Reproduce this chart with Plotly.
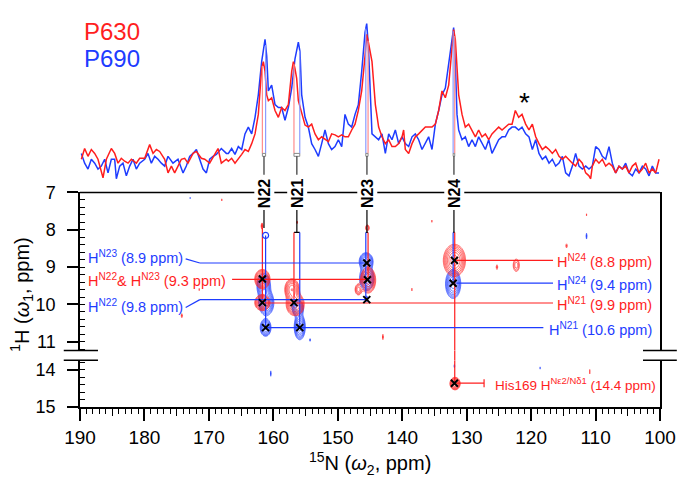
import numpy as np
import plotly.graph_objects as go

# ---------------- 1D spectra (projections), arbitrary intensity units ----------------
p630_ppm = [189.79, 189.28, 188.76, 188.24, 187.72, 187.21, 186.43, 185.91, 185.14, 184.62, 184.10, 183.59,
            183.07, 182.55, 182.03, 181.26, 180.74, 179.96, 179.19, 178.67, 178.15, 177.64, 176.86, 176.34,
            175.82, 175.31, 174.79, 174.27, 173.76, 173.24, 172.46, 171.94, 171.17, 170.65, 169.88, 169.10,
            168.58, 168.07, 167.29, 166.98, 166.47, 165.95, 165.43, 164.91, 164.40, 163.88, 163.36, 162.84,
            162.33, 162.07, 161.81, 161.55, 161.29, 161.03, 160.77, 160.26, 159.74, 159.22, 158.71, 158.19,
            157.67, 157.15, 156.89, 156.64, 156.38, 156.12, 155.60, 155.08, 154.57, 154.05, 153.53, 153.01,
            152.50, 151.98, 151.46, 150.95, 150.43, 149.91, 149.39, 148.88, 148.36, 147.84, 147.32, 146.81,
            146.29, 145.77, 145.51, 145.25, 144.69, 144.17, 143.66, 143.14, 142.62, 142.10, 141.59, 141.07,
            140.55, 140.03, 139.78, 139.52, 139.00, 138.48, 137.97, 137.45, 136.93, 136.41, 135.90, 135.38,
            134.86, 134.34, 133.83, 133.31, 132.79, 132.27, 132.02, 131.76, 131.50, 131.24, 130.72, 130.21,
            129.69, 129.17, 128.65, 128.14, 127.62, 127.10, 126.58, 126.07, 125.55, 125.03, 124.51, 124.00,
            123.48, 122.96, 122.45, 121.93, 121.41, 120.85, 120.33, 119.81, 119.29, 118.78, 118.26, 117.74,
            117.22, 116.71, 116.19, 115.67, 115.15, 114.64, 114.12, 113.60, 113.09, 112.57, 112.05, 111.53,
            111.02, 110.76, 110.50, 109.98, 109.47, 108.95, 108.43, 107.91, 107.40, 106.88, 106.36, 105.84,
            105.33, 104.81, 104.29, 103.77, 103.26, 102.74, 102.22, 101.70, 101.19, 100.67, 100.15]
p630 = [22, 33, 25, 32, 28, 22, 3, 22, 33, 28, 18, 23,
        20, 18, 22, 18, 23, 23, 37, 28, 32, 30, 22, 8,
        15, 8, 15, 22, 23, 18, 28, 30, 23, 22, 18, 28,
        33, 18, 22, 20, 23, 18, 22, 27, 32, 30, 38, 48,
        68, 95, 115, 122, 112, 88, 82, 85, 72, 65, 75, 72,
        78, 112, 122, 115, 105, 82, 68, 57, 55, 58, 48, 42,
        45, 42, 40, 48, 47, 45, 47, 45, 45, 52, 58, 72,
        92, 128, 150, 142, 122, 78, 55, 45, 38, 42, 35, 35,
        38, 45, 52, 32, 28, 38, 45, 48, 52, 55, 55, 55,
        58, 72, 92, 85, 98, 135, 155, 145, 118, 88, 68, 55,
        58, 52, 45, 52, 45, 48, 42, 48, 52, 55, 52, 55,
        58, 58, 72, 65, 68, 58, 52, 58, 45, 38, 32, 35,
        32, 28, 32, 25, 22, 25, 22, 18, 15, 22, 18, 8,
        5, 2, 15, 22, 18, 22, 15, 18, 15, 8, 15, 12,
        15, 8, 15, 18, 8, 12, 18, 8, 12, 8, 22]
p690_ppm = [189.79, 189.28, 188.76, 188.24, 187.72, 187.21, 186.69, 186.17, 185.65, 185.14, 184.62, 184.36,
            183.84, 183.33, 182.81, 182.29, 181.77, 181.26, 180.74, 179.96, 179.45, 178.93, 178.41, 177.89,
            177.38, 176.86, 176.34, 175.57, 174.79, 174.01, 173.50, 172.98, 172.46, 171.94, 171.43, 170.91,
            170.39, 169.88, 169.36, 168.84, 168.07, 167.29, 166.98, 166.47, 165.95, 165.43, 164.91, 164.40,
            163.88, 163.36, 162.84, 162.33, 161.81, 161.55, 161.29, 161.03, 160.77, 160.26, 159.74, 159.22,
            158.71, 158.19, 157.67, 157.15, 156.64, 156.12, 155.86, 155.60, 155.08, 154.57, 154.05, 153.53,
            153.01, 152.50, 151.98, 151.46, 150.95, 150.43, 149.91, 149.39, 148.88, 148.36, 147.84, 147.32,
            146.81, 146.29, 145.77, 145.51, 145.25, 144.69, 144.17, 143.66, 143.14, 142.62, 142.10, 141.59,
            141.07, 140.55, 140.03, 139.52, 139.00, 138.48, 137.97, 137.45, 136.93, 136.41, 135.90, 135.38,
            134.86, 134.34, 133.83, 133.31, 132.79, 132.27, 132.02, 131.76, 131.50, 131.24, 130.72, 130.21,
            129.69, 129.17, 128.65, 128.14, 127.62, 127.10, 126.58, 126.07, 125.55, 125.03, 124.51, 124.00,
            123.48, 122.96, 122.45, 121.93, 121.41, 120.85, 120.33, 119.81, 119.29, 118.78, 118.26, 117.74,
            117.22, 116.71, 116.19, 115.67, 115.15, 114.64, 114.12, 113.60, 113.09, 112.57, 112.05, 111.53,
            111.02, 110.50, 109.98, 109.47, 108.95, 108.43, 107.91, 107.40, 106.88, 106.36, 105.84, 105.33,
            104.81, 104.29, 103.77, 103.26, 102.74, 102.22, 101.70, 101.19, 100.67, 100.15]
p690 = [28, 18, 12, 22, 18, 12, 15, 22, 8, 22, 22, 2,
        15, 18, 5, 15, 22, 12, 18, 22, 28, 18, 25, 22,
        18, 15, 25, 18, 22, 8, 15, 25, 28, 32, 22, 12,
        8, 22, 25, 27, 33, 28, 28, 33, 27, 35, 32, 48,
        55, 48, 65, 88, 122, 135, 145, 128, 92, 98, 78, 75,
        75, 62, 75, 95, 125, 142, 132, 88, 65, 55, 38, 32,
        25, 38, 52, 38, 32, 35, 42, 35, 68, 58, 55, 68,
        78, 112, 152, 161, 138, 48, 45, 42, 48, 28, 48, 42,
        52, 38, 45, 38, 35, 45, 48, 42, 32, 38, 45, 32,
        58, 72, 88, 95, 118, 145, 157, 122, 68, 52, 42, 45,
        35, 42, 35, 45, 38, 32, 42, 28, 35, 42, 45, 45,
        52, 55, 55, 52, 55, 48, 45, 32, 42, 28, 22, 25,
        18, 22, 15, 18, 25, 8, 5, 15, 28, 15, 12, 15,
        12, 15, 35, 32, 25, 22, 35, 18, 8, 15, 12, 18,
        8, 5, 12, 8, 15, 12, 5, 15, 8, 8]

# assigned sites (15N ppm of the guide lines)
sites = ["N22", "N21", "N23", "N24"]
site_n_p630 = [161.7, 156.8, 145.3, 131.85]
site_n_p690 = [161.2, 155.9, 145.65, 132.1]

# ---------------- 2D peak lists: (15N ppm, 1H ppm, width N, width H, relative height) ----------------
p630_peaks = [
    (161.7, 9.32, 0.55, 0.12, 1.0), (161.7, 9.95, 0.55, 0.10, 1.0),
    (157.1, 9.6, 0.55, 0.14, 0.8), (156.6, 10.0, 0.65, 0.14, 1.0),
    (145.3, 9.35, 0.55, 0.16, 1.0), (146.8, 9.6, 0.32, 0.09, 0.35),
    (131.9, 8.82, 0.80, 0.20, 1.0), (131.8, 14.37, 0.38, 0.08, 0.9),
    (161.75, 7.9, 0.10, 0.06, 0.25), (156.3, 7.8, 0.08, 0.04, 0.15), (145.4, 7.95, 0.20, 0.06, 0.25),
    (122.3, 8.95, 0.35, 0.12, 0.25), (125.3, 9.0, 0.12, 0.07, 0.15), (114.5, 8.43, 0.12, 0.06, 0.15),
    (111.4, 7.6, 0.06, 0.04, 0.13), (135.4, 7.77, 0.06, 0.04, 0.13), (138.5, 9.6, 0.06, 0.05, 0.13),
    (143.0, 10.87, 0.08, 0.08, 0.15), (168.0, 7.2, 0.06, 0.04, 0.13), (174.2, 10.3, 0.10, 0.06, 0.15),
    (171.5, 9.6, 0.05, 0.05, 0.12), (110.9, 14.05, 0.08, 0.08, 0.13),
]
p690_peaks = [
    (161.5, 9.5, 0.5, 0.16, 0.9), (161.1, 9.95, 0.55, 0.16, 1.0), (161.2, 10.62, 0.4, 0.11, 0.9),
    (155.9, 10.6, 0.4, 0.16, 1.0), (156.2, 10.1, 0.45, 0.11, 0.7),
    (145.6, 8.85, 0.5, 0.11, 1.0), (145.5, 9.3, 0.55, 0.16, 0.8), (145.5, 9.85, 0.10, 0.05, 0.3),
    (132.1, 9.45, 0.55, 0.18, 1.0),
    (172.9, 7.15, 0.05, 0.03, 0.13), (161.0, 7.08, 0.06, 0.04, 0.15), (154.3, 10.95, 0.06, 0.04, 0.15),
    (111.4, 8.17, 0.08, 0.08, 0.16), (160.4, 14.1, 0.06, 0.08, 0.15), (131.9, 13.9, 0.07, 0.05, 0.15),
    (118.6, 13.95, 0.04, 0.05, 0.12),
]

# assignment crosses (15N, 1H)
cross_n = [161.7, 161.7, 161.2, 156.8, 155.9, 145.5, 145.4, 145.5, 131.9, 132.1]
cross_h = [9.32, 9.95, 10.62, 9.95, 10.62, 8.89, 9.34, 9.87, 8.82, 9.43]
cross_low_n = [131.9]
cross_low_h = [14.36]

# horizontal assignment lines: (series, 1H, 15N start, 15N end)
hlines = [("P690", 8.89, 171.4, 145.5), ("P630", 9.33, 166.4, 145.3), ("P690", 9.87, 171.4, 145.5),
          ("P630", 9.96, 161.7, 116.6), ("P690", 10.62, 161.2, 118.1), ("P630", 8.82, 131.9, 116.6),
          ("P690", 9.43, 131.6, 116.6)]
# assignment labels: (series, text, 15N, 1H)
labels_up = [
    ("P690", "H<sup>N23</sup> (8.9 ppm)", 189.1, 8.72),
    ("P630", "H<sup>N22</sup>& H<sup>N23</sup> (9.3 ppm)", 189.1, 9.35),
    ("P690", "H<sup>N22</sup> (9.8 ppm)", 189.1, 10.05),
    ("P630", "H<sup>N24</sup> (8.8 ppm)", 116.3, 8.84),
    ("P690", "H<sup>N24</sup> (9.4 ppm)", 116.3, 9.45),
    ("P630", "H<sup>N21</sup> (9.9 ppm)", 116.3, 10.0),
    ("P690", "H<sup>N21</sup> (10.6 ppm)", 117.5, 10.65),
]
label_low = ("P630", "His169 H<sup>Nε2/Nδ1</sup> (14.4 ppm)", 125.9, 14.38)

RED = "#ff1e1e"
BLUE = "#1e3cff"
COL = {"P630": RED, "P690": BLUE}
FONT = "Liberation Sans, Arial, sans-serif"

# ---------------- layout geometry ----------------
Y1_DOM, Y1_RANGE = [0.570, 0.9877], [0, 170]
Y2_DOM, Y2_RANGE = [0.1425, 0.5405], [11.23, 7.0]
Y3_DOM, Y3_RANGE = [0.0, 0.1179], [15.0, 13.74]


def y2p(h):
    return Y2_DOM[1] - (h - 7.0) / (11.23 - 7.0) * (Y2_DOM[1] - Y2_DOM[0])


def xp(n):
    return (190.0 - n) / 90.0


fig = go.Figure()

# ---- 1D projections
fig.add_trace(go.Scatter(x=p690_ppm, y=p690, mode="lines", line=dict(color=BLUE, width=1.5),
                         xaxis="x", yaxis="y", hoverinfo="skip"))
fig.add_trace(go.Scatter(x=p630_ppm, y=p630, mode="lines", line=dict(color=RED, width=1.5),
                         xaxis="x", yaxis="y", hoverinfo="skip"))

# ---- 2D contours (geometric contour levels via log of the peak surface)
ngrid = np.arange(100.0, 190.0001, 0.1)
h_up = np.arange(7.0, 11.2401, 0.02)
h_lo = np.arange(13.74, 15.0001, 0.02)


def surface(peaks, hgrid):
    z = np.zeros((len(hgrid), len(ngrid)))
    for n, h, sn, sh, a in peaks:
        z += a * np.exp(-0.5 * ((ngrid[None, :] - n) / sn) ** 2 - 0.5 * ((hgrid[:, None] - h) / sh) ** 2)
    return np.round(np.log10(z + 1e-3), 3)


for name, peaks in (("P690", p690_peaks), ("P630", p630_peaks)):
    c = COL[name]
    for hgrid, ya in ((h_up, "y2"), (h_lo, "y3")):
        fig.add_trace(go.Contour(
            x=np.round(ngrid, 2), y=np.round(hgrid, 3), z=surface(peaks, hgrid), xaxis="x", yaxis=ya,
            contours=dict(coloring="lines", start=-1.0, end=0.05, size=0.15),
            colorscale=[[0, c], [1, c]], showscale=False, line=dict(width=0.7), hoverinfo="skip"))


def seg(xs, ys, color, ya="y2", width=1.2):
    fig.add_trace(go.Scatter(x=xs, y=ys, mode="lines", line=dict(color=color, width=width),
                             xaxis="x", yaxis=ya, hoverinfo="skip"))


# ---- guide lines in 2D
for i, s in enumerate(sites):
    nr, nb = site_n_p630[i], site_n_p690[i]
    mid = 0.5 * (nr + nb)
    top = 7.95 if s == "N22" else 8.07
    seg([mid, mid], [7.47, top], "black")
    if s != "N22":
        seg([nr, nb], [top, top], "black")
seg([161.7, 161.7], [7.95, 9.95], RED)
seg([161.2, 161.2], [8.15, 10.62], BLUE)
seg([156.8, 156.8], [8.07, 9.95], RED)
seg([155.9, 155.9], [8.07, 10.62], BLUE)
seg([145.3, 145.3], [8.07, 9.34], RED)
seg([145.65, 145.65], [8.07, 9.87], BLUE)
seg([131.85, 131.85], [8.07, 11.23], RED)
seg([131.85, 131.85], [13.74, 14.36], RED, ya="y3")
seg([132.1, 132.1], [8.07, 9.43], BLUE)

for ser, h, n0, n1 in hlines:
    seg([n0, n1], [h, h], COL[ser])
# left label connectors
seg([173.6, 171.4], [8.78, 8.89], BLUE)
seg([173.6, 171.4], [10.08, 9.87], BLUE)
# His169 line with end tick
seg([131.9, 127.3], [14.36, 14.36], RED, ya="y3")
seg([127.3, 127.3], [14.25, 14.47], RED, ya="y3")

# crosses
fig.add_trace(go.Scatter(x=cross_n, y=cross_h, mode="markers", xaxis="x", yaxis="y2",
                         marker=dict(symbol="x-thin", size=7, line=dict(color="black", width=2)),
                         hoverinfo="skip"))
fig.add_trace(go.Scatter(x=cross_low_n, y=cross_low_h, mode="markers", xaxis="x", yaxis="y3",
                         marker=dict(symbol="x-thin", size=7, line=dict(color="black", width=2)),
                         hoverinfo="skip"))
fig.add_trace(go.Scatter(x=[161.2], y=[8.15], mode="markers", xaxis="x", yaxis="y2",
                         marker=dict(symbol="circle-open", size=6, color=BLUE, line=dict(width=1.2)),
                         hoverinfo="skip"))

# ---- guide lines in the 1D panel
shapes = []
for i, s in enumerate(sites):
    nr, nb = site_n_p630[i], site_n_p690[i]
    hr = float(np.interp(nr, p630_ppm[::-1], p630[::-1]))
    hb = float(np.interp(nb, p690_ppm[::-1], p690[::-1]))
    mid = 0.5 * (nr + nb)
    shapes.append(dict(type="line", xref="x", yref="y", x0=nr, x1=nr, y0=28, y1=hr,
                       line=dict(color="#ff8c8c", width=1.2)))
    shapes.append(dict(type="line", xref="x", yref="y", x0=nb, x1=nb, y0=28, y1=hb,
                       line=dict(color="#8c9cff", width=1.2)))
    shapes.append(dict(type="rect", xref="x", yref="y", x0=min(nr, nb), x1=max(nr, nb), y0=25, y1=28,
                       line=dict(color="#888888", width=1)))
    shapes.append(dict(type="line", xref="x", yref="y", x0=mid, x1=mid, y0=25, y1=6,
                       line=dict(color="#333333", width=1.2)))

# frame pieces & axis breaks
shapes.append(dict(type="line", xref="paper", yref="paper", x0=0, x1=1, y0=Y2_DOM[1], y1=Y2_DOM[1],
                   line=dict(color="black", width=1.5)))
for yy in (Y2_DOM[0], Y3_DOM[1]):
    shapes.append(dict(type="line", xref="paper", yref="paper", x0=-0.028, x1=0.031, y0=yy, y1=yy,
                       line=dict(color="black", width=1.5)))
    shapes.append(dict(type="line", xref="paper", yref="paper", x0=0.9707, x1=1.029, y0=yy, y1=yy,
                       line=dict(color="black", width=1.5)))
# N24 P630 line running through the axis break
shapes.append(dict(type="line", xref="paper", yref="paper", x0=xp(131.85), x1=xp(131.85),
                   y0=Y2_DOM[0], y1=Y3_DOM[1], line=dict(color=RED, width=1.2)))

annotations = []
for i, s in enumerate(sites):
    mid = 0.5 * (site_n_p630[i] + site_n_p690[i])
    annotations.append(dict(x=mid, y=y2p(7.02), xref="x", yref="paper", text="<b>%s</b>" % s,
                            textangle=-90, showarrow=False, bgcolor="white", borderpad=1,
                            font=dict(family=FONT, size=16, color="black")))
for ser, txt, n, h in labels_up:
    annotations.append(dict(x=n, y=h, xref="x", yref="y2", text=txt, showarrow=False, xanchor="left",
                            yanchor="middle", font=dict(family=FONT, size=14.5, color=COL[ser])))
ser, txt, n, h = label_low
annotations.append(dict(x=n, y=h, xref="x", yref="y3", text=txt, showarrow=False, xanchor="left",
                        yanchor="middle", font=dict(family=FONT, size=13.5, color=COL[ser])))
annotations.append(dict(x=0.0034, y=0.945, xref="paper", yref="paper", text="P630", showarrow=False,
                        xanchor="left", yanchor="middle", font=dict(family=FONT, size=24, color=RED)))
annotations.append(dict(x=0.0034, y=0.878, xref="paper", yref="paper", text="P690", showarrow=False,
                        xanchor="left", yanchor="middle", font=dict(family=FONT, size=24, color=BLUE)))
annotations.append(dict(x=121.1, y=80, xref="x", yref="y", text="*", showarrow=False,
                        font=dict(family=FONT, size=28, color="black")))
annotations.append(dict(x=0.5, y=-0.1425, xref="paper", yref="paper", xanchor="center", yanchor="middle",
                        text="<sup>15</sup>N (<i>ω</i><sub>2</sub>, ppm)", showarrow=False,
                        font=dict(family=FONT, size=20, color="black")))
annotations.append(dict(x=-0.1, y=0.2826, xref="paper", yref="paper", textangle=-90,
                        xanchor="center", yanchor="middle",
                        text="<sup>1</sup>H (<i>ω</i><sub>1</sub>, ppm)", showarrow=False,
                        font=dict(family=FONT, size=20, color="black")))

axis_common = dict(showgrid=False, zeroline=False, showline=True, linecolor="black", linewidth=1.5,
                   tickcolor="black", tickwidth=1.5)
fig.update_layout(
    width=677, height=477, margin=dict(l=80, r=17, t=0, b=70),
    paper_bgcolor="white", plot_bgcolor="white", showlegend=False,
    xaxis=dict(domain=[0, 1], range=[190, 100], anchor="y3", ticks="outside", ticklen=12,
               tickvals=list(range(100, 191, 10)), tickfont=dict(family=FONT, size=19, color="black"),
               minor=dict(dtick=1, ticks="outside", ticklen=5, tickwidth=1.2, tickcolor="black"),
               **axis_common),
    xaxis2=dict(overlaying="x", range=[190, 100], anchor="y3", ticks="outside", ticklen=8,
                tickvals=list(range(105, 190, 10)), showticklabels=False, showgrid=False,
                zeroline=False, showline=False, tickcolor="black", tickwidth=1.2),
    yaxis=dict(domain=Y1_DOM, range=Y1_RANGE, anchor="x", visible=False),
    yaxis2=dict(domain=Y2_DOM, range=Y2_RANGE, anchor="x", mirror=True, ticks="outside", ticklen=11,
                tickvals=[7, 8, 9, 10, 11], ticklabelstandoff=8,
                tickfont=dict(family=FONT, size=18, color="black"),
                minor=dict(dtick=0.2, tick0=7, ticks="inside", ticklen=5, tickwidth=1.2, tickcolor="black"),
                **axis_common),
    yaxis3=dict(domain=Y3_DOM, range=Y3_RANGE, anchor="x", mirror=True, ticks="outside", ticklen=11,
                tickvals=[14, 15], ticklabelstandoff=8,
                tickfont=dict(family=FONT, size=18, color="black"),
                minor=dict(dtick=0.2, tick0=14, ticks="inside", ticklen=5, tickwidth=1.2, tickcolor="black"),
                **axis_common),
    shapes=shapes, annotations=annotations,
)
# invisible trace so the 5-ppm tick axis is drawn
fig.add_trace(go.Scatter(x=[150], y=[14.5], xaxis="x2", yaxis="y3", mode="markers",
                         marker=dict(opacity=0), hoverinfo="skip"))

fig.write_html("out.html", config={"displayModeBar": False},
               post_script="document.body.style.margin='0px';")
